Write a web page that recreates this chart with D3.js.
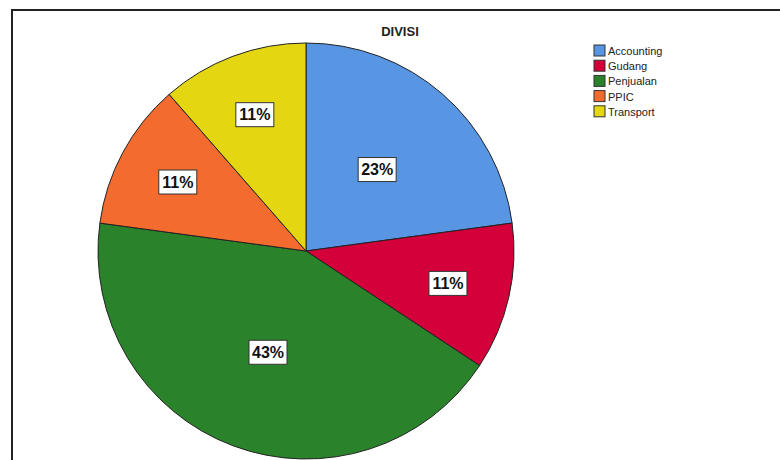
<!DOCTYPE html>
<head>
  <title>DIVISI</title>
  <style>
    body { margin: 0; background: #fff; }
    svg { display: block; font-family: Arial, "Liberation Sans", sans-serif; }
  </style>
</head>
<body>
  <script src="https://cdn.jsdelivr.net/npm/d3@7/dist/d3.min.js"></script>
  <script>
    // data (counts, n = 35)
    var categories = ["Accounting", "Gudang", "Penjualan", "PPIC", "Transport"];
    var counts = [8, 4, 15, 4, 4];
    var pctLabels = ["23%", "11%", "43%", "11%", "11%"];
    var colors = ["#5896e4", "#d3003a", "#2a832a", "#f36b2e", "#e5d612"];

    var svg_width = 780, svg_height = 460;
    var cx = 306, cy = 251, radius = 208;

    var svg = d3.select("body").append("svg")
      .attr("width", svg_width)
      .attr("height", svg_height);

    // outer frame (runs off the right / bottom edge)
    svg.append("rect")
      .attr("x", 12).attr("y", 10)
      .attr("width", 800).attr("height", 500)
      .attr("fill", "none")
      .attr("stroke", "#222")
      .attr("stroke-width", 2);

    // title
    svg.append("text")
      .attr("x", 400).attr("y", 36)
      .attr("text-anchor", "middle")
      .attr("font-weight", "bold")
      .attr("font-size", 13)
      .attr("fill", "#222")
      .text("DIVISI");

    var pie = d3.pie().sort(null).value(function(d) { return d; });
    var arcs = pie(counts);
    var total = d3.sum(counts);
    var arc = d3.arc().innerRadius(0).outerRadius(radius);

    var g = svg.append("g").attr("transform", "translate(" + cx + "," + cy + ")");

    g.selectAll("path")
      .data(arcs)
      .enter()
      .append("path")
      .attr("d", arc)
      .attr("fill", function(d, i) { return colors[i]; })
      .attr("stroke", "#222")
      .attr("stroke-width", 1);

    // percentage labels in white boxes
    var labels = g.selectAll("g.lab")
      .data(arcs)
      .enter()
      .append("g")
      .attr("class", "lab")
      .attr("transform", function(d) {
        var frac = d.value / total;
        var r = radius * (frac < 0.15 ? 0.7 : 0.52);
        var a = (d.startAngle + d.endAngle) / 2;
        return "translate(" + (r * Math.sin(a)) + "," + (-r * Math.cos(a)) + ")";
      });

    labels.append("rect")
      .attr("x", -19).attr("y", -12)
      .attr("width", 38).attr("height", 24)
      .attr("fill", "#fff")
      .attr("stroke", "#333")
      .attr("stroke-width", 1);

    labels.append("text")
      .attr("text-anchor", "middle")
      .attr("dy", "0.36em")
      .attr("font-weight", "bold")
      .attr("font-size", 16)
      .attr("fill", "#111")
      .text(function(d, i) { return pctLabels[i]; });

    // legend
    var legend = svg.append("g").attr("transform", "translate(594,45)");
    var rows = legend.selectAll("g")
      .data(categories)
      .enter()
      .append("g")
      .attr("transform", function(d, i) { return "translate(0," + (i * 15.2) + ")"; });

    rows.append("rect")
      .attr("width", 11).attr("height", 11)
      .attr("fill", function(d, i) { return colors[i]; })
      .attr("stroke", "#333")
      .attr("stroke-width", 1);

    rows.append("text")
      .attr("x", 14).attr("y", 10)
      .attr("font-size", 11)
      .attr("fill", "#222")
      .text(function(d) { return d; });
  </script>
</body>
